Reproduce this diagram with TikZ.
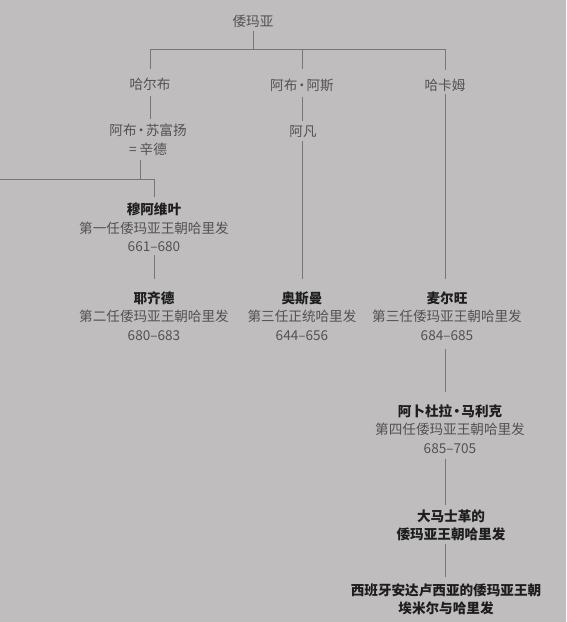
\documentclass[tikz,border=0pt]{standalone}
\usepackage{fontspec}
\setmainfont{Noto Sans CJK SC}
\definecolor{bgc}{HTML}{BFBDBD}
\definecolor{txtc}{HTML}{525252}
\definecolor{boldc}{HTML}{1E1E1E}
\definecolor{linec}{HTML}{777777}
\newcommand\fsz{\fontsize{13.6pt}{18.6pt}\selectfont}
\newcommand\nm[1]{{\bfseries\color{boldc}#1}}
\newcommand\md{\kern-2.2pt·\kern-2.2pt}
\tikzset{
  ln/.style={draw=linec, line width=0.8pt},
  tx/.style={text=txtc, inner sep=0pt, align=center, font=\fsz},
}
\begin{document}
\begin{tikzpicture}[x=1pt,y=-1pt]
\fill[bgc] (0,0) rectangle (566,622);
\useasboundingbox (0,0) rectangle (566,622);
% nodes
\node[tx] (r)  at (253,21)  {倭玛亚};
\node[tx] (h1) at (150,84.5) {哈尔布};
\node[tx] (h2) at (302,85)  {阿布\md 阿斯};
\node[tx] (h3) at (445,85)  {哈卡姆};
\node[tx] (s)  at (148,140) {阿布\md 苏富扬\\= 辛德};
\node[tx] (f)  at (303,132) {阿凡};
\node[tx] (m1) at (154,227.5) {\nm{穆阿维叶}\\第一任倭玛亚王朝哈里发\\661–680};
\node[tx] (y)  at (154,316) {\nm{耶齐德}\\第二任倭玛亚王朝哈里发\\680–683};
\node[tx] (u)  at (302,316) {\nm{奥斯曼}\\第三任正统哈里发\\644–656};
\node[tx] (mw) at (447,316) {\nm{麦尔旺}\\第三任倭玛亚王朝哈里发\\684–685};
\node[tx] (am) at (450,429) {\nm{阿卜杜拉\md 马利克}\\第四任倭玛亚王朝哈里发\\685–705};
\node[tx,font=\fsz\bfseries,text=boldc] (dm) at (451,525.5) {大马士革的\\倭玛亚王朝哈里发};
\node[tx,font=\fsz\bfseries,text=boldc] (es) at (446,599.5) {西班牙安达卢西亚的倭玛亚王朝\\埃米尔与哈里发};
% junctions
\coordinate (rj) at (253,49);
\coordinate (sj) at (140,179);
\coordinate (wj) at (0,179);
% connectors
\draw[ln] ([yshift=-4pt]r.south) -- (rj);
\draw[ln] ([yshift=9pt]h1.north) |- (h3 |- rj) -- ([yshift=9pt]h3.north);
\draw[ln] (h2 |- rj) -- ([yshift=9pt]h2.north);
\draw[ln] ([yshift=-5pt]h1.south) -- ([yshift=5pt]s.north -| h1);
\draw[ln] ([yshift=-5pt]h2.south) -- ([yshift=5pt]f.north -| h2);
\draw[ln] ([yshift=-4pt]s.south -| sj) -- (sj);
\draw[ln] (wj) -| ([yshift=6pt]m1.north);
\draw[ln] ([yshift=-3pt]m1.south) -- ([yshift=12pt]y.north);
\draw[ln] ([yshift=-3pt]f.south -| h2) -- ([yshift=12pt]u.north -| h2);
\draw[ln] ([yshift=-3pt]h3.south) -- ([yshift=12pt]mw.north -| h3);
\draw[ln] ([yshift=-8pt]mw.south -| h3) -- ([yshift=12pt]am.north -| h3);
\draw[ln] ([yshift=-5pt]am.south -| h3) -- ([yshift=5pt]dm.north -| h3);
\draw[ln] ([yshift=-3pt]dm.south -| h3) -- ([yshift=6pt]es.north -| h3);
\end{tikzpicture}
\end{document}
